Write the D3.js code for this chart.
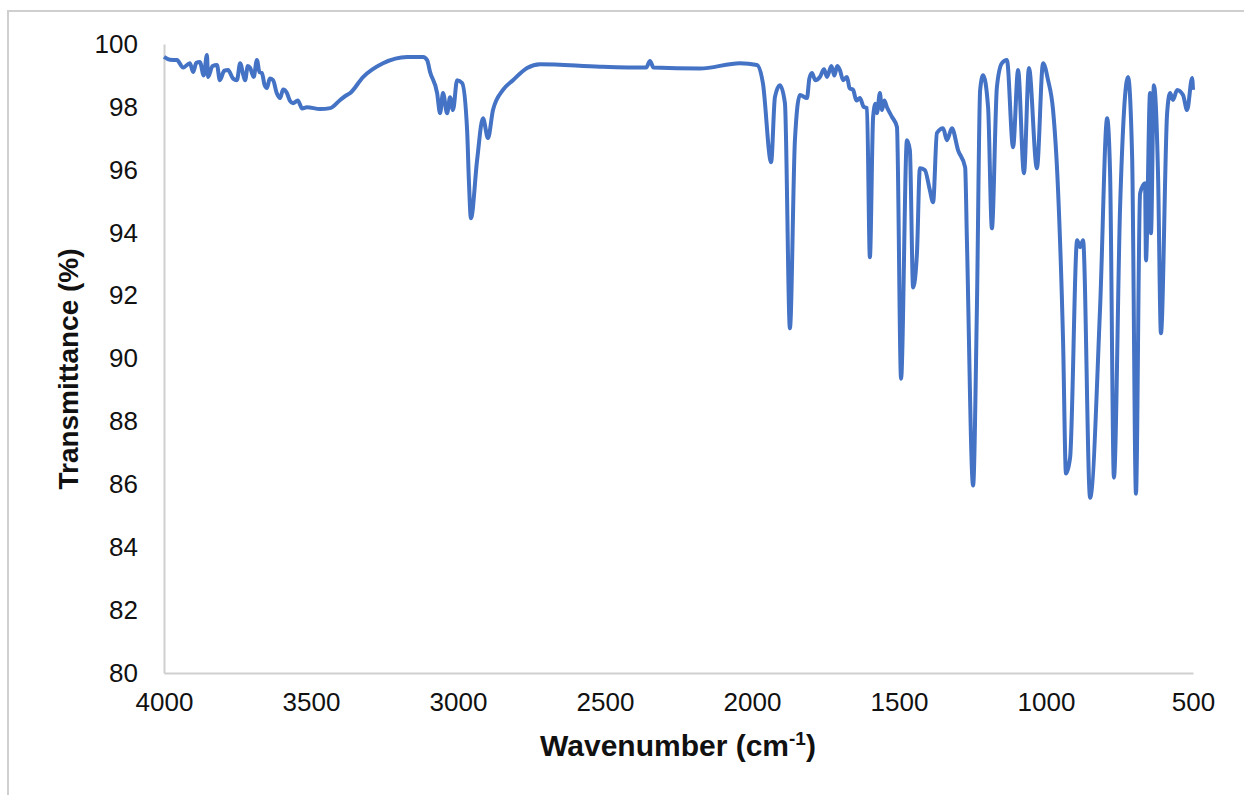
<!DOCTYPE html>
<html>
<head>
<meta charset="utf-8">
<script src="https://cdn.jsdelivr.net/npm/d3@7"></script>
<style>
  body { margin: 0; background: #fff; }
  text { font-family: "Liberation Sans", Arial, sans-serif; fill: #111; }
</style>
</head>
<body>
<svg id="chart" width="1244" height="795"></svg>
<script>
// IR spectrum: wavenumber (cm-1) and transmittance (%)
const wavenumber = [
  4000, 3980, 3956, 3935, 3912, 3901, 3890, 3878, 3865, 3854, 3850, 3835, 3820, 3810, 3795, 3782,
  3765, 3752, 3741, 3730, 3724, 3715, 3707, 3695, 3684, 3675, 3667, 3658, 3650, 3640, 3629, 3617,
  3605, 3595, 3582, 3572, 3561, 3545, 3530, 3514, 3469, 3435, 3401, 3378, 3367, 3323, 3255, 3173,
  3119, 3105, 3095, 3071, 3061, 3051, 3037, 3027, 3017, 3003, 2986, 2969, 2963, 2956, 2935, 2915,
  2898, 2881, 2847, 2813, 2765, 2721, 2517, 2360, 2347, 2335, 2177, 2041, 1983, 1963, 1935, 1922,
  1905, 1888, 1871, 1854, 1837, 1813, 1805, 1796, 1785, 1769, 1755, 1745, 1730, 1720, 1710, 1701,
  1690, 1677, 1668, 1656, 1645, 1633, 1620, 1609, 1599, 1588, 1580, 1575, 1565, 1558, 1550, 1541,
  1525, 1507, 1493, 1473, 1463, 1452, 1439, 1429, 1412, 1395, 1384, 1371, 1350, 1337, 1320, 1299,
  1275, 1269, 1248, 1235, 1224, 1214, 1197, 1184, 1167, 1150, 1133, 1112, 1095, 1075, 1058, 1031,
  1010, 993, 976, 959, 942, 932, 918, 894, 884, 874, 850, 816, 792, 782, 769, 748,
  721, 707, 694, 680, 663, 660, 646, 643, 633, 619, 609, 588, 578, 568, 554, 534, 520, 503, 500
];
const transmittance = [
  99.59, 99.50, 99.49, 99.25, 99.39, 99.11, 99.40, 99.43, 99.00, 99.65, 98.95, 99.30, 99.33, 98.85, 99.15, 99.17,
  98.90, 98.85, 99.39, 99.00, 98.85, 99.30, 99.24, 98.95, 99.49, 99.10, 99.08, 98.70, 98.60, 98.90, 98.85, 98.45,
  98.28, 98.55, 98.44, 98.20, 98.12, 98.20, 97.95, 97.99, 97.93, 97.96, 98.22, 98.38, 98.44, 98.95, 99.39, 99.59,
  99.59, 99.49, 99.11, 98.44, 97.80, 98.44, 97.80, 98.31, 97.90, 98.85, 98.76, 97.26, 95.67, 94.46, 96.31, 97.64,
  97.01, 97.90, 98.54, 98.85, 99.24, 99.36, 99.28, 99.25, 99.46, 99.25, 99.22, 99.39, 99.33, 98.76, 96.24, 98.31,
  98.69, 98.12, 90.96, 96.94, 98.38, 98.28, 98.90, 99.08, 98.85, 98.95, 99.20, 98.95, 99.30, 99.00, 99.30, 99.17,
  98.85, 98.95, 98.60, 98.54, 98.20, 98.28, 98.00, 97.96, 93.22, 97.68, 98.10, 97.80, 98.44, 97.90, 98.20, 97.99,
  97.70, 97.36, 89.36, 96.94, 96.62, 92.26, 93.34, 96.05, 95.99, 95.35, 94.97, 97.17, 97.32, 96.94, 97.32, 96.62,
  96.08, 93.76, 85.96, 91.62, 98.54, 99.01, 97.99, 94.14, 98.63, 99.39, 99.49, 96.72, 99.17, 95.89, 99.24, 96.05,
  99.39, 98.85, 97.90, 95.35, 90.57, 86.34, 86.85, 93.76, 93.54, 93.76, 85.57, 91.62, 97.64, 95.89, 86.21, 94.81,
  98.95, 96.40, 85.70, 95.25, 95.57, 93.12, 98.44, 93.98, 98.69, 95.89, 90.80, 97.80, 98.44, 98.22, 98.54, 98.38, 97.90, 98.92, 98.54
];
const xTicks = [4000, 3500, 3000, 2500, 2000, 1500, 1000, 500];
const yTicks = [80, 82, 84, 86, 88, 90, 92, 94, 96, 98, 100];

const spectrum = wavenumber.map((w, i) => ({ w, t: transmittance[i] }));

const margin = { top: 44, right: 51, bottom: 122, left: 164 };
const width = 1244, height = 795;

const svg = d3.select("#chart");

// outer frame (only top and left edges show in the picture)
svg.append("path")
  .attr("d", "M8,1000V11H1300")
  .attr("fill", "none")
  .attr("stroke", "#cfcfcf")
  .attr("stroke-width", 2);

const x = d3.scaleLinear().domain([4000, 500]).range([margin.left, width - margin.right]);
const y = d3.scaleLinear().domain([80, 100]).range([height - margin.bottom, margin.top]);

const gx = svg.append("g")
  .attr("transform", `translate(0,${height - margin.bottom})`)
  .call(d3.axisBottom(x).tickValues(xTicks).tickSize(0).tickPadding(20).tickFormat(d3.format("d")));

const gy = svg.append("g")
  .attr("transform", `translate(${margin.left},0)`)
  .call(d3.axisLeft(y).tickValues(yTicks).tickSize(0).tickPadding(26).tickFormat(d3.format("d")));

[gx, gy].forEach((g) => {
  g.select(".domain").attr("stroke", "#cfcfcf").attr("stroke-width", 2);
  g.selectAll("text").style("font-size", "26px").attr("fill", "#111");
});

const line = d3.line()
  .x((d) => x(d.w))
  .y((d) => y(d.t))
  .curve(d3.curveMonotoneX);

svg.append("path")
  .datum(spectrum)
  .attr("fill", "none")
  .attr("stroke", "#4472C4")
  .attr("stroke-width", 4)
  .attr("stroke-linejoin", "round")
  .attr("d", line);

// axis titles
svg.append("text")
  .attr("transform", "translate(78,369) rotate(-90)")
  .attr("text-anchor", "middle")
  .style("font-size", "28px")
  .style("font-weight", "bold")
  .text("Transmittance (%)");

const xt = svg.append("text")
  .attr("x", 678)
  .attr("y", 756)
  .attr("text-anchor", "middle")
  .style("font-size", "30px")
  .style("font-weight", "bold");
xt.append("tspan").text("Wavenumber (cm");
xt.append("tspan").attr("dy", -11).style("font-size", "19px").text("-1");
xt.append("tspan").attr("dy", 11).text(")");
</script>
</body>
</html>
